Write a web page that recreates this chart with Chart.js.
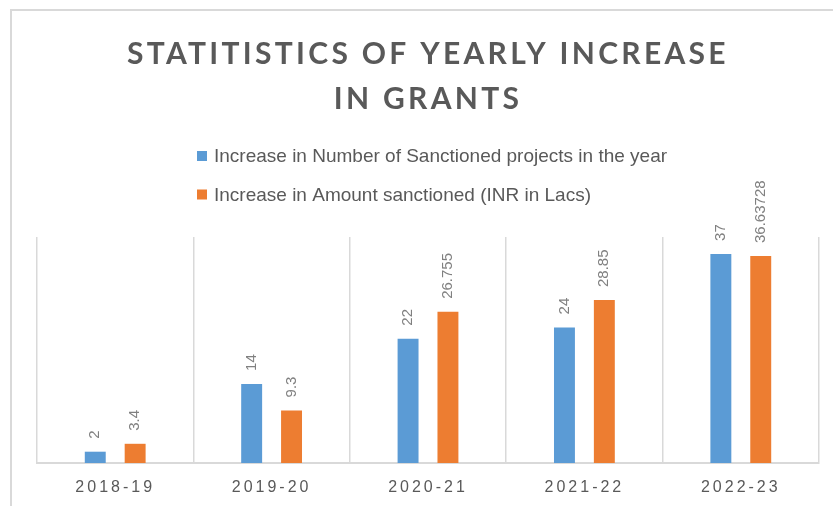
<!DOCTYPE html>
<html>
<head>
<meta charset="utf-8">
<script src="https://cdn.jsdelivr.net/npm/chart.js@4.4.0/dist/chart.umd.min.js"></script>
<style>
  html, body { margin: 0; padding: 0; background: #fff; }
</style>
</head>
<body>
<canvas id="myChart" width="833" height="506"></canvas>
<script>
const years = ['2018-19', '2019-20', '2020-21', '2021-22', '2022-23'];
const projectCounts = [2, 14, 22, 24, 37];
const amounts = [3.4, 9.3, 26.755, 28.85, 36.63728];
const seriesNames = [
  'Increase in Number of Sanctioned projects in the year',
  'Increase in Amount sanctioned (INR in Lacs)'
];
const titleLines = ['STATITISTICS OF YEARLY INCREASE', 'IN GRANTS'];

const textGray = '#595959';
const lineGray = '#d9d9d9';

// outer frame + letter spacing for the title
const framePlugin = {
  id: 'frame',
  beforeDraw(chart) {
    const ctx = chart.ctx;
    ctx.save();
    ctx.strokeStyle = lineGray;
    ctx.lineWidth = 2;
    ctx.strokeRect(11, 10, 900, 600);
    ctx.restore();
    ctx.letterSpacing = '3.3px';
  }
};

// rotated value labels above bars
const valueLabels = {
  id: 'valueLabels',
  afterDatasetsDraw(chart) {
    const ctx = chart.ctx;
    chart.data.datasets.forEach((ds, i) => {
      chart.getDatasetMeta(i).data.forEach((bar, j) => {
        ctx.save();
        ctx.letterSpacing = '0px';
        ctx.translate(bar.x, bar.y - 13);
        ctx.rotate(-Math.PI / 2);
        ctx.font = '15px "Liberation Sans"';
        ctx.fillStyle = '#808080';
        ctx.textAlign = 'left';
        ctx.textBaseline = 'middle';
        ctx.fillText(String(ds.data[j]), 0, 0);
        ctx.restore();
      });
    });
    // spacing for the year labels drawn next
    ctx.letterSpacing = '3px';
  }
};

// stacked legend, left aligned
const stackedLegend = {
  id: 'stackedLegend',
  afterDraw(chart) {
    const ctx = chart.ctx;
    ctx.save();
    ctx.letterSpacing = '0px';
    ctx.font = '19px "Liberation Sans"';
    ctx.textBaseline = 'middle';
    ctx.textAlign = 'left';
    chart.data.datasets.forEach((ds, i) => {
      const y = 156 + i * 38.5;
      ctx.fillStyle = ds.backgroundColor;
      ctx.fillRect(197, y - 5, 10, 10);
      ctx.fillStyle = textGray;
      ctx.fillText(ds.label, 214, y + 1);
    });
    ctx.restore();
    ctx.letterSpacing = '0px';
  }
};

const ctx = document.getElementById('myChart').getContext('2d');
const myChart = new Chart(ctx, {
  type: 'bar',
  data: {
    labels: years,
    datasets: [
      {
        label: seriesNames[0],
        data: projectCounts,
        backgroundColor: '#5b9bd5',
        categoryPercentage: 0.51,
        barPercentage: 0.525
      },
      {
        label: seriesNames[1],
        data: amounts,
        backgroundColor: '#ed7d31',
        categoryPercentage: 0.51,
        barPercentage: 0.525
      }
    ]
  },
  options: {
    responsive: false,
    animation: false,
    devicePixelRatio: 1,
    layout: {
      padding: { left: 37, right: 14, top: 0, bottom: 0 }
    },
    plugins: {
      legend: { display: false },
      tooltip: { enabled: false },
      title: {
        display: true,
        text: titleLines,
        color: textGray,
        font: { family: 'Lato', size: 30, weight: 'bold', lineHeight: 1.5 },
        padding: { top: 32, bottom: 115 }
      }
    },
    scales: {
      x: {
        grid: { color: lineGray, lineWidth: 1.5, drawTicks: false, offset: true },
        border: { color: lineGray, width: 2 },
        ticks: {
          color: textGray,
          font: { family: 'Liberation Sans', size: 16 },
          padding: 15,
          maxRotation: 0,
          z: 1
        },
        afterFit(scale) {
          scale.height = 43;
        }
      },
      y: {
        display: false,
        min: 0,
        max: 40
      }
    }
  },
  plugins: [framePlugin, valueLabels, stackedLegend]
});
</script>
</body>
</html>
